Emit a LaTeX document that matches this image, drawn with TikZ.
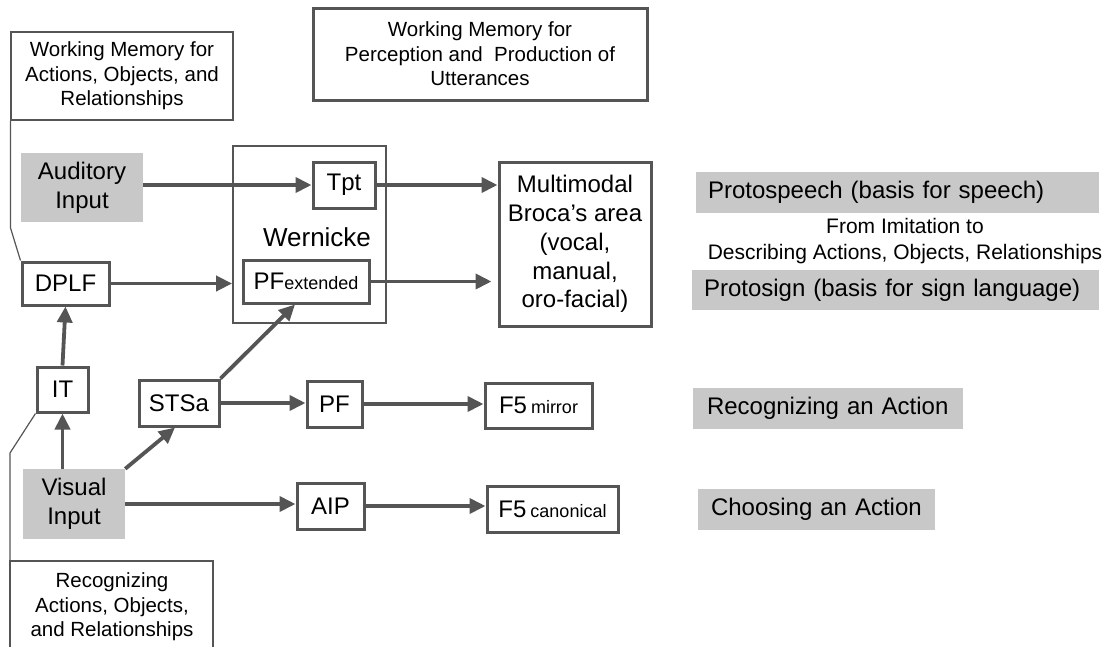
\documentclass[tikz,border=0pt]{standalone}
\usepackage{fontspec}
\setmainfont{Liberation Sans}
\usetikzlibrary{arrows.meta,calc}
\definecolor{ink}{HTML}{555555}
\definecolor{shade}{HTML}{C8C8C8}
\newcommand\subtag[1]{{\fontsize{18}{18}\selectfont #1}}
\begin{document}
\begin{tikzpicture}[x=1pt,y=-1pt,
  big/.style={font=\fontsize{24}{28.8}\selectfont},
  small/.style={font=\fontsize{20.5}{24.6}\selectfont},
  area/.style={draw=ink, line width=3pt, fill=white, inner sep=0pt, big, align=center},
  frame/.style={draw=ink, line width=1.2pt, inner sep=0pt, small, align=center},
  shaded/.style={fill=shade, inner sep=0pt, big, align=center},
  tag/.style={fill=shade, big, align=left, inner ysep=0pt},
  link/.style={draw=ink, line width=3.8pt, -{Triangle[length=16pt,width=15pt]}},
  guide/.style={draw=ink, line width=1.2pt},
]
\useasboundingbox (0,0) rectangle (1114,646);

% working memory frames
\node[frame, minimum width=222pt, minimum height=88pt] (wmact) at (122,76)
  {Working Memory for\\Actions, Objects, and\\Relationships};
\node[area, small, minimum width=334pt, minimum height=92pt] (wmutt) at (480,54)
  {Working Memory for\\Perception and~ Production of\\Utterances};

% inputs
\node[shaded, minimum width=122pt, minimum height=69pt] (aud) at (82,187.5) {Auditory\\Input};
\node[shaded, minimum width=102pt, minimum height=70pt] (vis) at (74,504) {Visual\\Input};

% left column
\node[area, minimum width=87pt, minimum height=43pt] (dplf) at (65.5,283.5) {DPLF};
\node[area, minimum width=51pt, minimum height=45pt] (it) at (62.5,389.5) {IT};

% Wernicke region
\node[draw=ink, line width=1.8pt, minimum width=153pt, minimum height=177pt, inner sep=0pt] (wer) at (309.5,234.5) {};
\node[font=\fontsize{26}{30}\selectfont, inner sep=0pt] (werlab) at (317,237) {Wernicke};
\node[area, minimum width=62pt, minimum height=46pt] (tpt) at (344,185) {Tpt};
\node[area, minimum width=126pt, minimum height=43pt] (pfx) at (306,281.5) {PF\subtag{extended}};

% Broca
\node[area, minimum width=152pt, minimum height=164pt] (broca) at (575,244)
  {Multimodal\\Broca’s area\\(vocal,\\manual,\\oro-facial)};

% lower pathways
\node[area, minimum width=80pt, minimum height=46pt] (stsa) at (179,403) {STSa};
\node[area, minimum width=55pt, minimum height=46pt] (pf) at (334.5,404) {PF};
\node[area, minimum width=107pt, minimum height=45pt] (f5m) at (538.5,405.5) {F5\,\subtag{mirror}};
\node[area, minimum width=67pt, minimum height=46pt] (aip) at (330.5,506) {AIP};
\node[area, minimum width=131pt, minimum height=46pt] (f5c) at (552.5,509) {F5\,\subtag{canonical}};

% recognizing frame (open at the bottom edge)
\node[small, align=center, inner sep=0pt] (recog) at (112,607)
  {Recognizing\\Actions, Objects,\\and Relationships};
\coordinate (rtl) at (10,561);
\coordinate (rtr) at (213,561);
\draw[guide] (10,660) -- (rtl) -- (rtr) -- (213,660);
\draw[guide] (rtl) -- (10,453) -- (it.south west);
\draw[guide] (wmact.south west) -- ++(0,107) -- (dplf.north west);

% right-hand labels
\node[tag, minimum height=41pt, text width=379pt, inner xsep=12pt] (speech) at (897.5,192.5)
  {Protospeech (basis for speech)};
\node[small, align=center, inner sep=0pt, font=\fontsize{21}{26}\selectfont] (imit) at (905,241)
  {From Imitation to\\Describing Actions, Objects, Relationships};
\node[tag, minimum height=40pt, text width=383pt, inner xsep=12pt] (sign) at (895.5,290)
  {Protosign (basis for sign language)};
\node[tag, minimum height=41pt, text width=242pt, inner xsep=14pt] (recact) at (828,408.5)
  {Recognizing an Action};
\node[tag, minimum height=41pt, text width=211pt, inner xsep=13pt] (choose) at (816.5,509.5)
  {Choosing an Action};

% connections
\draw[link] (aud.east |- tpt.west) -- (tpt.west);
\draw[link] (tpt.east) -- (broca.west |- tpt.east);
\draw[link] (dplf.east) -- (wer.west |- dplf.east);
\draw[link, shorten >=6pt] (pfx.east) -- (broca.west |- pfx.east);
\draw[link] (it.north) -- (dplf.south);
\draw[link] (vis.north -| it) -- (it.south);
\draw[link] (vis.north east) -- ($(stsa.south)+(-4,0)$);
\draw[link] (stsa.north east) -- ($(pfx.south)+(-11,0)$);
\draw[link] (stsa.east) -- (pf.west |- stsa.east);
\draw[link] (pf.east) -- (f5m.west |- pf.east);
\draw[link] (vis.east) -- (aip.west |- vis.east);
\draw[link] (aip.east) -- (f5c.west |- aip.east);
\end{tikzpicture}
\end{document}
